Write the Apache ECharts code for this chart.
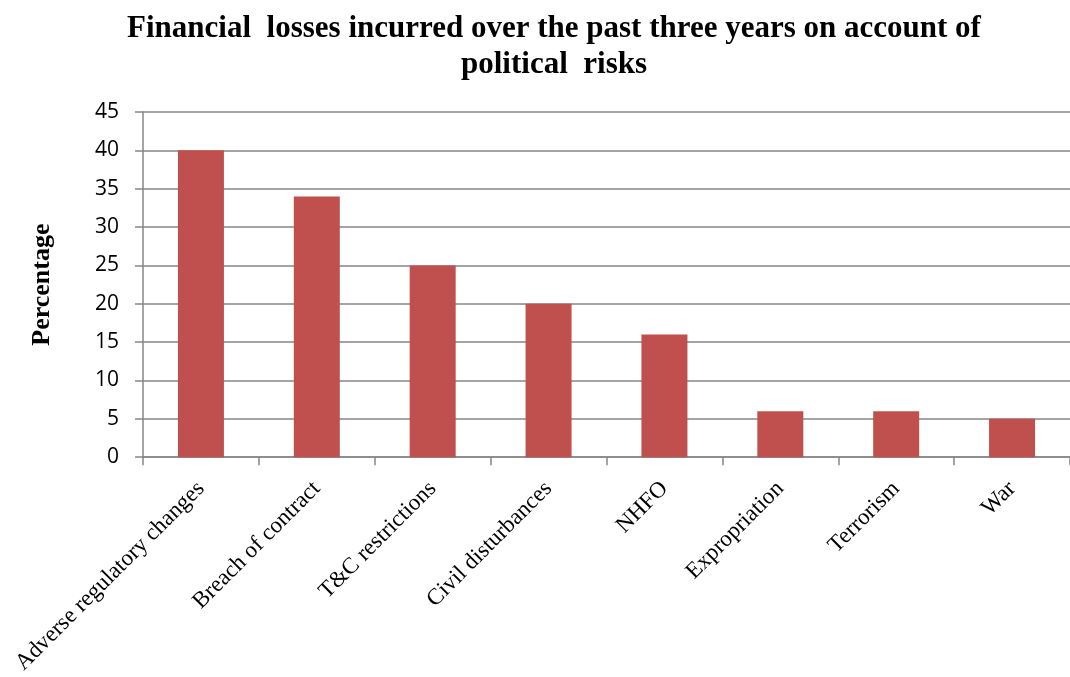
<!DOCTYPE html>
<html>
<head>
<meta charset="utf-8">
<script src="https://cdn.jsdelivr.net/npm/echarts@6/dist/echarts.min.js"></script>
<style>
html,body{margin:0;padding:0;background:#fff;}
#chart{width:1070px;height:677px;}
</style>
</head>
<body>
<div id="chart"></div>
<script>
const categories = ["Adverse regulatory changes","Breach of contract","T&C restrictions","Civil disturbances","NHFO","Expropriation","Terrorism","War"];
const values = [40, 34, 25, 20, 16, 6, 6, 5];
const yTicks = {min: 0, max: 45, interval: 5};
const titleText = "Financial  losses incurred over the past three years on account of\npolitical  risks";
const yName = "Percentage";

const chart = echarts.init(document.getElementById('chart'));
const axisGray = '#868686';
chart.setOption({
  animation: false,
  backgroundColor: '#ffffff',
  title: {
    text: titleText,
    left: 549,
    textAlign: 'center',
    top: 6,
    textStyle: {
      fontFamily: 'Liberation Serif',
      fontWeight: 'bold',
      fontSize: 31,
      lineHeight: 36,
      color: '#000'
    }
  },
  grid: {left: 143, top: 112, bottom: 217, right: -9, containLabel: false},
  xAxis: {
    type: 'category',
    data: categories,
    axisLine: {show: true, lineStyle: {color: axisGray, width: 1.5}},
    axisTick: {show: true, alignWithLabel: false, length: 8, lineStyle: {color: axisGray, width: 1.5}},
    axisLabel: {
      interval: 0,
      rotate: 45,
      margin: 28,
      fontFamily: 'Liberation Serif',
      fontSize: 23,
      color: '#000'
    },
    splitLine: {show: false}
  },
  yAxis: {
    type: 'value',
    min: yTicks.min,
    max: yTicks.max,
    interval: yTicks.interval,
    name: yName,
    nameLocation: 'middle',
    nameRotate: 90,
    nameGap: 88,
    nameTextStyle: {
      fontFamily: 'Liberation Serif',
      fontWeight: 'bold',
      fontSize: 26,
      color: '#000'
    },
    axisLine: {show: true, lineStyle: {color: axisGray, width: 1.5}},
    axisTick: {show: true, length: 8, lineStyle: {color: axisGray, width: 1.5}},
    axisLabel: {
      margin: 24,
      fontFamily: 'Open Sans',
      fontSize: 21,
      color: '#000'
    },
    splitLine: {show: true, lineStyle: {color: axisGray, width: 1.5}}
  },
  series: [{
    type: 'bar',
    data: values,
    barWidth: 46,
    itemStyle: {color: '#C0504D'}
  }]
});
</script>
</body>
</html>
